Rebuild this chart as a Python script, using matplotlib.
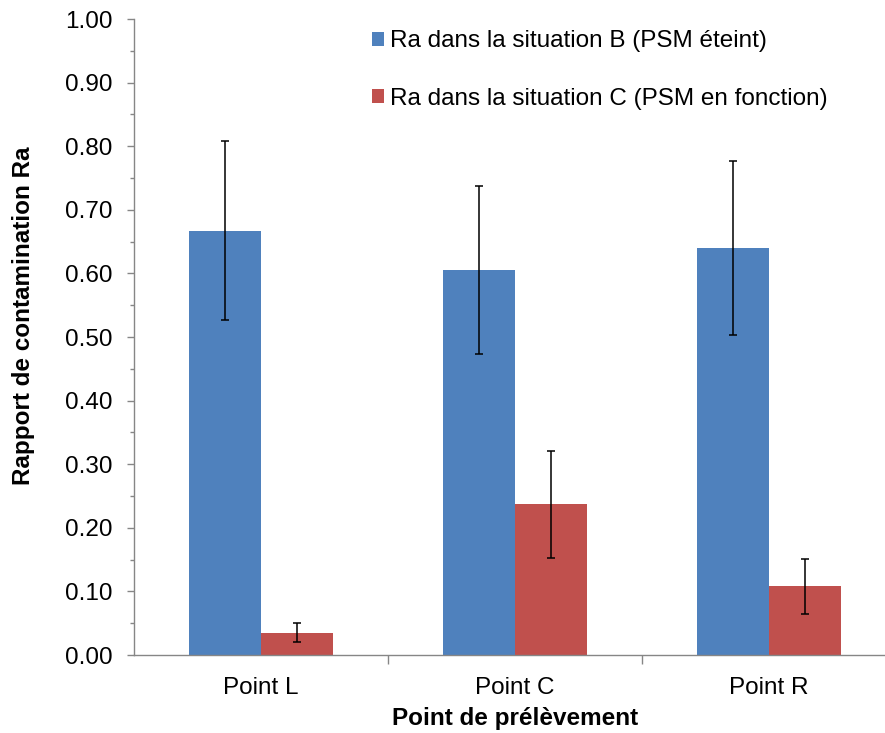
import matplotlib
matplotlib.use("Agg")
import matplotlib.pyplot as plt
import numpy as np
from matplotlib.patches import Patch
from matplotlib.ticker import MultipleLocator, FixedLocator

categories = ["Point L", "Point C", "Point R"]
ra_b = [0.667, 0.605, 0.640]
ra_b_err = [0.141, 0.132, 0.137]
ra_c = [0.035, 0.237, 0.108]
ra_c_err = [0.015, 0.084, 0.043]
labels = ["Ra dans la situation B (PSM éteint)", "Ra dans la situation C (PSM en fonction)"]
colors = ["#4F81BD", "#C0504D"]

plt.rcParams['font.family'] = ['Liberation Sans', 'DejaVu Sans']

fig = plt.figure(figsize=(8.85, 7.33), dpi=100)
ax = fig.add_axes([134/885, 78/733, 762/885, 636/733])

x = np.arange(len(categories))
w = 0.284
ax.bar(x - w/2, ra_b, w, color=colors[0], edgecolor='none', zorder=2)
ax.bar(x + w/2, ra_c, w, color=colors[1], edgecolor='none', zorder=2)
ax.errorbar(x - w/2, ra_b, yerr=ra_b_err, fmt='none', ecolor='black', elinewidth=1.1, capsize=3, capthick=1.1, zorder=3)
ax.errorbar(x + w/2, ra_c, yerr=ra_c_err, fmt='none', ecolor='black', elinewidth=1.1, capsize=3, capthick=1.1, zorder=3)

ax.set_xlim(-0.5, 2.5)
ax.set_ylim(0, 1.0)
yt = np.arange(0, 1.001, 0.1)
ax.set_yticks(yt)
ax.set_yticklabels([f"{v:.2f}" for v in yt])
ax.yaxis.set_minor_locator(MultipleLocator(0.05))

ax.set_xticks(x)
ax.set_xticklabels(categories)
ax.xaxis.set_minor_locator(FixedLocator([0.5, 1.5]))
ax.tick_params(axis='x', which='major', length=0, labelsize=17.5, pad=16)
ax.tick_params(axis='x', which='minor', length=6.5, color='#868686', width=1)
ax.tick_params(axis='y', which='major', length=5, color='#868686', width=1, labelsize=17.5, pad=10.5)
ax.tick_params(axis='y', which='minor', length=3, color='#868686', width=1)

for s in ['top', 'right']:
    ax.spines[s].set_visible(False)
for s in ['left', 'bottom']:
    ax.spines[s].set_color('#868686')
    ax.spines[s].set_linewidth(1)

ax.set_xlabel("Point de prélèvement", fontsize=17.5, fontweight='bold', labelpad=5.5)
ax.set_ylabel("Rapport de contamination Ra", fontsize=17.5, fontweight='bold')
ax.yaxis.set_label_coords(-0.130, 0.533)

handles = [Patch(facecolor=c, edgecolor='none') for c in colors]
leg = ax.legend(handles, labels, loc='upper left', bbox_to_anchor=(0.3125, 0.982),
                frameon=False, fontsize=17.5, handlelength=0.5, handleheight=0.5,
                handletextpad=0.25, labelspacing=1.45, borderpad=0, borderaxespad=0)

fig.savefig("out.png", dpi=100)
